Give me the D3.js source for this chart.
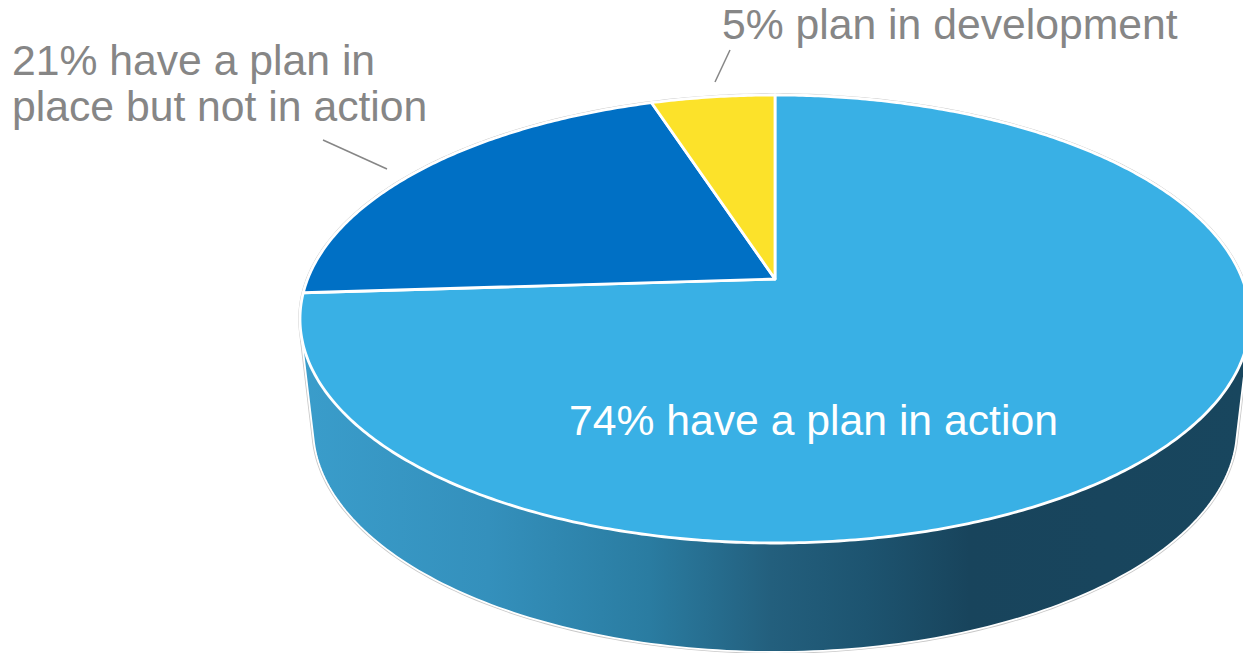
<!DOCTYPE html>
<html>
<head>
<meta charset="utf-8">
<script src="https://cdn.jsdelivr.net/npm/d3@7/dist/d3.min.js"></script>
<style>
  html, body { margin: 0; padding: 0; background: #fff; }
  svg { display: block; }
  text { font-family: "Liberation Sans", Arial, sans-serif; }
</style>
</head>
<body>
<svg id="chart" width="1243" height="653"></svg>
<script>
// Survey shares, in drawing order clockwise from twelve o'clock
const categories = ["have a plan in action", "have a plan in place but not in action", "plan in development"];
const shares = [74, 21, 5];
const sliceColors = ["#39b0e5", "#0070c5", "#fce22a"];

const width = 1243, height = 653;
const svg = d3.select("#chart");

// Perspective of the tilted disc: the pie's centre sits above the centre of the ellipse
const apex = { x: 775, y: 279 };
const reachTop = 184, reachBottom = 264, halfWidth = 475;
const tilt = (reachBottom - reachTop) / (reachBottom + reachTop);
const depthScale = reachTop * (1 + tilt);
const widthScale = halfWidth * Math.sqrt(1 - tilt * tilt);

function project(angle, r = 1) {
  const ux = r * Math.sin(angle), uy = -r * Math.cos(angle);
  const w = 1 - tilt * uy;
  return [apex.x + widthScale * ux / w, apex.y + depthScale * uy / w];
}

// Rim of the lower face is the upper rim narrowed slightly and dropped
const upperMid = { x: 775, y: 319, hw: halfWidth, hh: 224 };
const lowerMid = { x: 775, y: 428, hw: 462, hh: 224 };
const toLower = ([x, y]) => [
  lowerMid.x + (x - upperMid.x) * lowerMid.hw / upperMid.hw,
  lowerMid.y + (y - upperMid.y) * lowerMid.hh / upperMid.hh
];

const tau = 2 * Math.PI;
const rimAngles = d3.range(0, tau, tau / 360);
const upperRim = rimAngles.map(a => project(a));
const lowerRim = upperRim.map(toLower);
const hull = d3.polygonHull(upperRim.concat(lowerRim));
const line = d3.line();

// Side wall shading runs left to right, darkest from about seven tenths across
const defs = svg.append("defs");
const wallStops = [
  [0, "#3a9dcb"], [0.2, "#3490bc"], [0.37, "#2a7ca1"], [0.5, "#235f7d"],
  [0.6, "#1d5470"], [0.71, "#18445c"], [1, "#18465e"]
];
defs.append("linearGradient")
  .attr("id", "wall")
  .attr("gradientUnits", "userSpaceOnUse")
  .attr("x1", 300).attr("x2", 1243).attr("y1", 0).attr("y2", 0)
  .selectAll("stop").data(wallStops).join("stop")
  .attr("offset", d => d[0])
  .attr("stop-color", d => d[1]);

// Body of the pie with a faint grey edge around a white one
svg.append("path")
  .attr("d", line(hull) + "Z")
  .attr("fill", "none")
  .attr("stroke", "#c9c9c9")
  .attr("stroke-width", 3.5);
svg.append("path")
  .attr("d", line(hull) + "Z")
  .attr("fill", "url(#wall)")
  .attr("stroke", "#fff")
  .attr("stroke-width", 1.8);

// Top face, one slice per share
const arcs = d3.pie().value(d => d).sort(null)(shares);
function slicePath(d) {
  const steps = Math.max(2, Math.ceil((d.endAngle - d.startAngle) / 0.01));
  const pts = d3.range(steps + 1).map(i =>
    project(d.startAngle + (d.endAngle - d.startAngle) * i / steps));
  return line([[apex.x, apex.y], ...pts]) + "Z";
}
svg.append("g").selectAll("path").data(arcs).join("path")
  .attr("d", slicePath)
  .attr("fill", (d, i) => sliceColors[i])
  .attr("stroke", "#fff")
  .attr("stroke-width", 2.8)
  .attr("stroke-linejoin", "round");

// Value labels
const fontSize = 42.7;
const labelRows = [
  { lines: [`${shares[1]}% have a plan in`, "place but not in action"], x: 12, y: 75, fill: "#868686" },
  { lines: [`${shares[2]}% plan in development`], x: 722, y: 39, fill: "#868686" },
  { lines: [`${shares[0]}% have a plan in action`], x: 569, y: 435, fill: "#ffffff" }
];
const labels = svg.append("g").attr("font-size", fontSize);
labelRows.forEach(row => {
  labels.append("text")
    .attr("fill", row.fill)
    .selectAll("tspan").data(row.lines).join("tspan")
    .attr("x", row.x)
    .attr("y", (d, i) => row.y + i * 45.5)
    .text(d => d);
});

// Leader lines from the outside labels towards their slices
const leaders = [
  [[323, 140], [387, 169]],
  [[730, 50], [715, 82]]
];
svg.append("g").selectAll("path").data(leaders).join("path")
  .attr("d", d => line(d))
  .attr("stroke", "#868686")
  .attr("stroke-width", 1.5)
  .attr("fill", "none");
</script>
</body>
</html>
